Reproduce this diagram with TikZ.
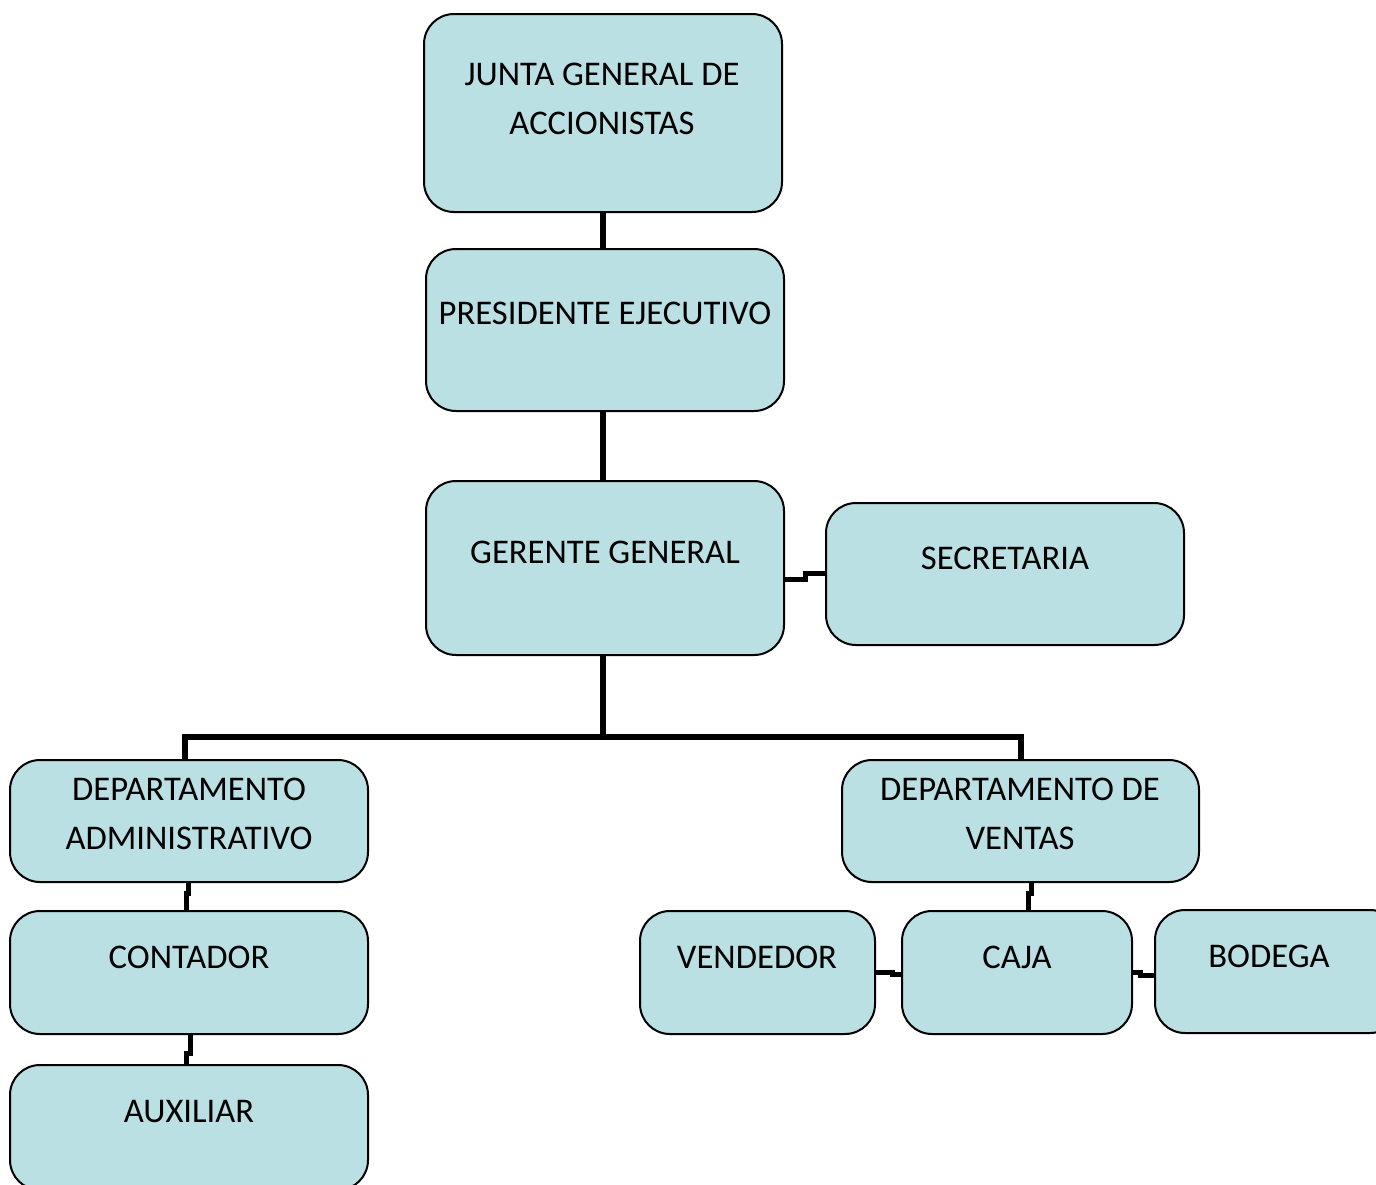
\documentclass[tikz,border=0pt]{standalone}
\usepackage{fontspec}
\setmainfont{Carlito}
\usetikzlibrary{shapes}
\usetikzlibrary{arrows}
\definecolor{celeste}{RGB}{186,224,227}

\begin{document}
\begin{tikzpicture}[x=0.5pt,y=-0.5pt]
	\tikzstyle{cargo}=[rectangle,draw,line width=1pt,rounded corners=15pt,fill=celeste,inner sep=0pt]
	\tikzstyle{texto}=[inner sep=0pt,align=center,font=\fontsize{17.3}{24.5}\selectfont]
	\tikzstyle{tronco}=[line width=3pt]
	\tikzstyle{enlace}=[line width=2.5pt]
	
	\useasboundingbox (0,0) rectangle (1376,1184);
	\clip (0,0) rectangle (1376,1184);
	
	% cajas
	\node[cargo,minimum width=179pt,minimum height=99pt] (junta) at (603,113) {};
	\node[cargo,minimum width=179pt,minimum height=81pt] (presidente) at (605,330) {};
	\node[cargo,minimum width=179pt,minimum height=87pt] (gerente) at (605,568) {};
	\node[cargo,minimum width=179pt,minimum height=71pt] (secretaria) at (1005,574) {};
	\node[cargo,minimum width=179pt,minimum height=61pt] (admin) at (189,821) {};
	\node[cargo,minimum width=178.5pt,minimum height=61pt] (ventas) at (1020.5,821) {};
	\node[cargo,minimum width=179pt,minimum height=61.5pt] (contador) at (189,972.5) {};
	\node[cargo,minimum width=179pt,minimum height=62.5pt] (auxiliar) at (189,1127.5) {};
	\node[cargo,minimum width=117.5pt,minimum height=61.5pt] (vendedor) at (757.5,972.5) {};
	\node[cargo,minimum width=115pt,minimum height=61.5pt] (caja) at (1017,972.5) {};
	\node[cargo,minimum width=122.5pt,minimum height=61.5pt] (bodega) at (1277.5,971.5) {};
	
	% textos
	\node[texto] (juntaT) at (602,98.5) {JUNTA GENERAL DE\\ACCIONISTAS};
	\node[texto] (presidenteT) at (605,313) {PRESIDENTE EJECUTIVO};
	\node[texto] (gerenteT) at (605,552) {GERENTE GENERAL};
	\node[texto] (secretariaT) at (1005,558) {SECRETARIA};
	\node[texto] (adminT) at (189,813.5) {DEPARTAMENTO\\ADMINISTRATIVO};
	\node[texto] (ventasT) at (1020,813.5) {DEPARTAMENTO DE\\VENTAS};
	\node[texto] (contadorT) at (189,957) {CONTADOR};
	\node[texto] (auxiliarT) at (189,1112) {AUXILIAR};
	\node[texto] (vendedorT) at (757,957) {VENDEDOR};
	\node[texto] (cajaT) at (1017,957) {CAJA};
	\node[texto] (bodegaT) at (1269,956) {BODEGA};
	
	% lineas
	\draw[tronco] (junta.south) -- (junta.south |- presidente.north);
	\draw[tronco] (junta.south |- presidente.south) -- (junta.south |- gerente.north);
	\draw[tronco] (junta.south |- gerente.south) -- (603,737) coordinate (rama);
	\draw[tronco] (admin.north -| 185,0) |- (rama) -| (ventas.north);
	\draw[enlace] (gerente.east |- 0,579.5) -| (805,573.5) -- (secretaria.west |- 0,573.5);
	\draw[enlace] (admin.south -| 188.5,0) |- (186,893) -- (contador.north -| 186,0);
	\draw[enlace] (contador.south -| 190,0) |- (186,1053) -- (auxiliar.north -| 186,0);
	\draw[enlace] (ventas.south -| 1031.5,0) |- (1028,893) -- (caja.north -| 1028,0);
	\draw[enlace] (vendedor.east |- 0,972.5) -| (892,974.5) -- (caja.west |- 0,974.5);
	\draw[enlace] (caja.east |- 0,972.5) -| (1140,975.5) -- (bodega.west |- 0,975.5);
\end{tikzpicture}
\end{document}
